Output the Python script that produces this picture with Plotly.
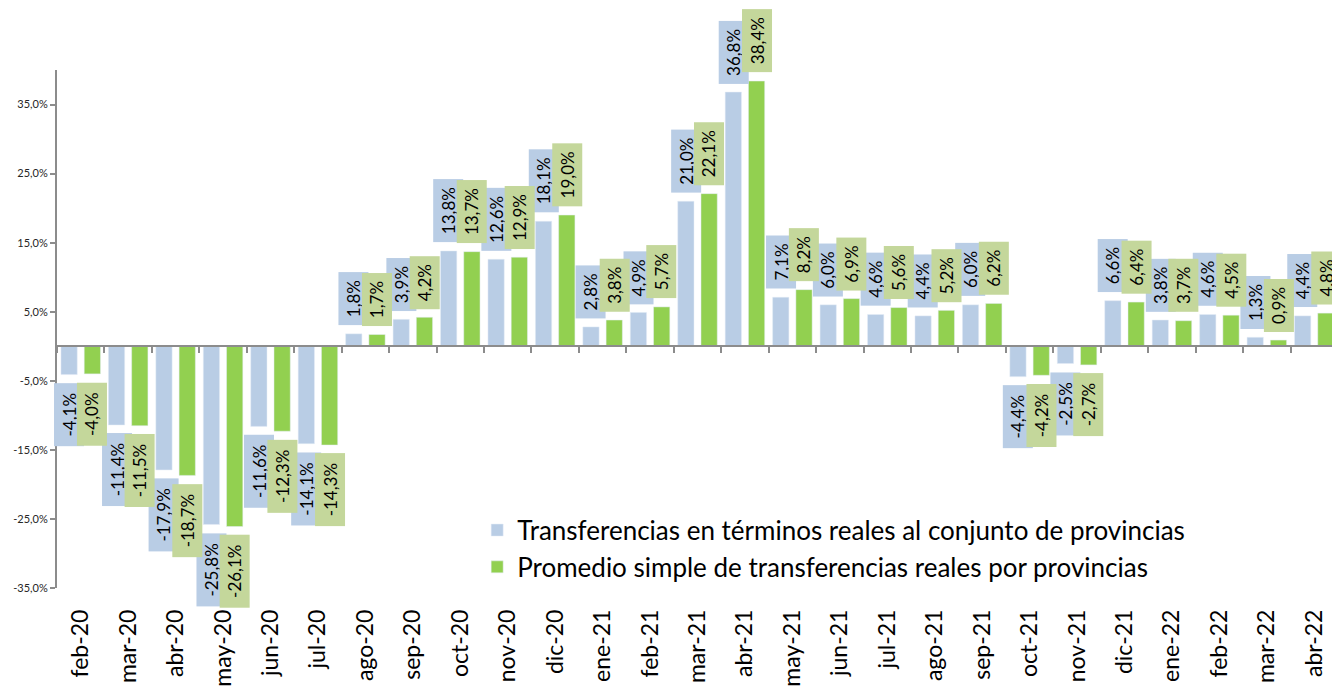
import plotly.graph_objects as go

categories = ["feb-20", "mar-20", "abr-20", "may-20", "jun-20", "jul-20", "ago-20", "sep-20",
              "oct-20", "nov-20", "dic-20", "ene-21", "feb-21", "mar-21", "abr-21", "may-21",
              "jun-21", "jul-21", "ago-21", "sep-21", "oct-21", "nov-21", "dic-21", "ene-22",
              "feb-22", "mar-22", "abr-22"]
conjunto = [-4.1, -11.4, -17.9, -25.8, -11.6, -14.1, 1.8, 3.9, 13.8, 12.6, 18.1, 2.8, 4.9, 21.0,
            36.8, 7.1, 6.0, 4.6, 4.4, 6.0, -4.4, -2.5, 6.6, 3.8, 4.6, 1.3, 4.4]
promedio = [-4.0, -11.5, -18.7, -26.1, -12.3, -14.3, 1.7, 4.2, 13.7, 12.9, 19.0, 3.8, 5.7, 22.1,
            38.4, 8.2, 6.9, 5.6, 5.2, 6.2, -4.2, -2.7, 6.4, 3.7, 4.5, 0.9, 4.8]
name_conjunto = "Transferencias en términos reales al conjunto de provincias"
name_promedio = "Promedio simple de transferencias reales por provincias"
y_ticks = [-35, -25, -15, -5, 5, 15, 25, 35]

BLUE = "#B9CDE5"
GREEN = "#92D050"
BLUE_BOX = "#B9CDE5"
GREEN_BOX = "#C4D79B"
AXIS = "#8C8C8C"
FONT = "Lato"


def fmt(v):
    return f"{v:.1f}".replace(".", ",") + "%"


fig = go.Figure()
fig.add_trace(go.Bar(x=categories, y=conjunto, name=name_conjunto, marker_color=BLUE))
fig.add_trace(go.Bar(x=categories, y=promedio, name=name_promedio, marker_color=GREEN))

bargap = 0.02
half_slot = (1 - bargap) / 4.0

annotations = []
for series, sign, box in ((conjunto, -1, BLUE_BOX), (promedio, 1, GREEN_BOX)):
    for i, v in enumerate(series):
        txt = fmt(v)
        pos = v >= 0
        annotations.append(dict(
            x=i + sign * half_slot, y=v, xref="x", yref="y",
            text=txt, showarrow=False, textangle=-90,
            font=dict(family=FONT, size=17, color="#000000"),
            bgcolor=box, borderpad=4, width=10 * len(txt) + 4,
            xanchor="center", yanchor="bottom" if pos else "top",
            yshift=8 if pos else -8,
        ))

# the page body adds an 8px offset; figure is sized so it ends at the window edge
fig.update_layout(
    width=1332, height=681,
    margin=dict(l=49, r=2, t=62, b=101, autoexpand=False),
    paper_bgcolor="white", plot_bgcolor="white",
    barmode="group", bargap=bargap, bargroupgap=0.3,
    separators=",.",
    font=dict(family=FONT, color="#000000"),
    annotations=annotations,
    showlegend=True,
    legend=dict(x=0.328, y=0.157, xanchor="left", yanchor="top",
                bgcolor="rgba(0,0,0,0)", font=dict(family=FONT, size=26, color="#000000"),
                itemwidth=30, traceorder="normal"),
    xaxis=dict(type="category", categoryarray=categories, range=[-0.5, len(categories) - 0.5],
               showline=False, ticks="", showgrid=False, zeroline=False, automargin=False,
               tickangle=-90, tickfont=dict(family=FONT, size=23, color="#000000"),
               ticklabelstandoff=16),
    xaxis2=dict(overlaying="x", anchor="free", position=35 / 75, type="linear",
                range=[-0.5, len(categories) - 0.5],
                tickvals=[k - 0.5 for k in range(len(categories) + 1)],
                showticklabels=False, ticks="outside", ticklen=6, tickwidth=2, tickcolor=AXIS,
                showline=True, linecolor=AXIS, linewidth=2, showgrid=False, zeroline=False),
    yaxis=dict(range=[-35, 40], tickvals=y_ticks, ticktext=[fmt(t) for t in y_ticks],
               showline=True, linecolor=AXIS, linewidth=2, ticks="outside", ticklen=5,
               tickwidth=2, tickcolor=AXIS, showgrid=False, zeroline=False, automargin=False,
               tickfont=dict(family=FONT, size=11, color="#262626")),
)
fig.add_trace(go.Scatter(x=[], y=[], xaxis="x2", showlegend=False, hoverinfo="skip"))

fig.write_html("out.html")
